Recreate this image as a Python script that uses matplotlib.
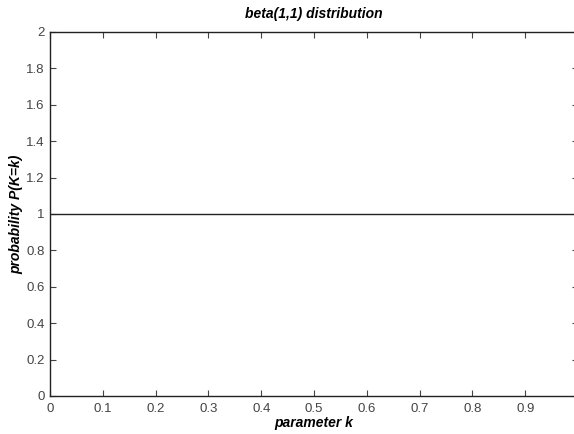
import numpy as np
import matplotlib
matplotlib.use("Agg")
import matplotlib.pyplot as plt

# beta(1,1) density is flat at 1
k = [0.0, 0.25, 0.5, 0.75, 1.0]
density = [1.0, 1.0, 1.0, 1.0, 1.0]
xticks = [0, 0.1, 0.2, 0.3, 0.4, 0.5, 0.6, 0.7, 0.8, 0.9]
yticks = [0, 0.2, 0.4, 0.6, 0.8, 1, 1.2, 1.4, 1.6, 1.8, 2]

plt.rcParams['font.family'] = ['Liberation Sans', 'DejaVu Sans']

fig = plt.figure(figsize=(5.74, 4.34), dpi=100)
ax = fig.add_axes([50 / 574, 38 / 434, 528 / 574, 364 / 434])

ax.plot(k, density, color='#222222', linewidth=1.0)
ax.set_xlim(0, 1)
ax.set_ylim(0, 2)
ax.set_xticks(xticks)
ax.set_xticklabels([str(t) for t in xticks])
ax.set_yticks(yticks)
ax.set_yticklabels([str(t) for t in yticks])
ax.tick_params(direction='in', length=4, width=0.8, labelsize=9.5,
               top=True, right=True, colors='#444444', pad=4)
ax.tick_params(axis='x', pad=5)

for s in ax.spines.values():
    s.set_linewidth(1.0)
    s.set_color('#222222')

ax.set_title('beta(1,1) distribution', fontsize=10, style='italic',
             fontweight='bold', pad=10)
ax.set_xlabel('parameter k', fontsize=10, style='italic', fontweight='bold',
              labelpad=1)
ax.set_ylabel('probability P(K=k)', fontsize=10, style='italic',
              fontweight='bold', labelpad=2)

fig.savefig('out.png', dpi=100)
